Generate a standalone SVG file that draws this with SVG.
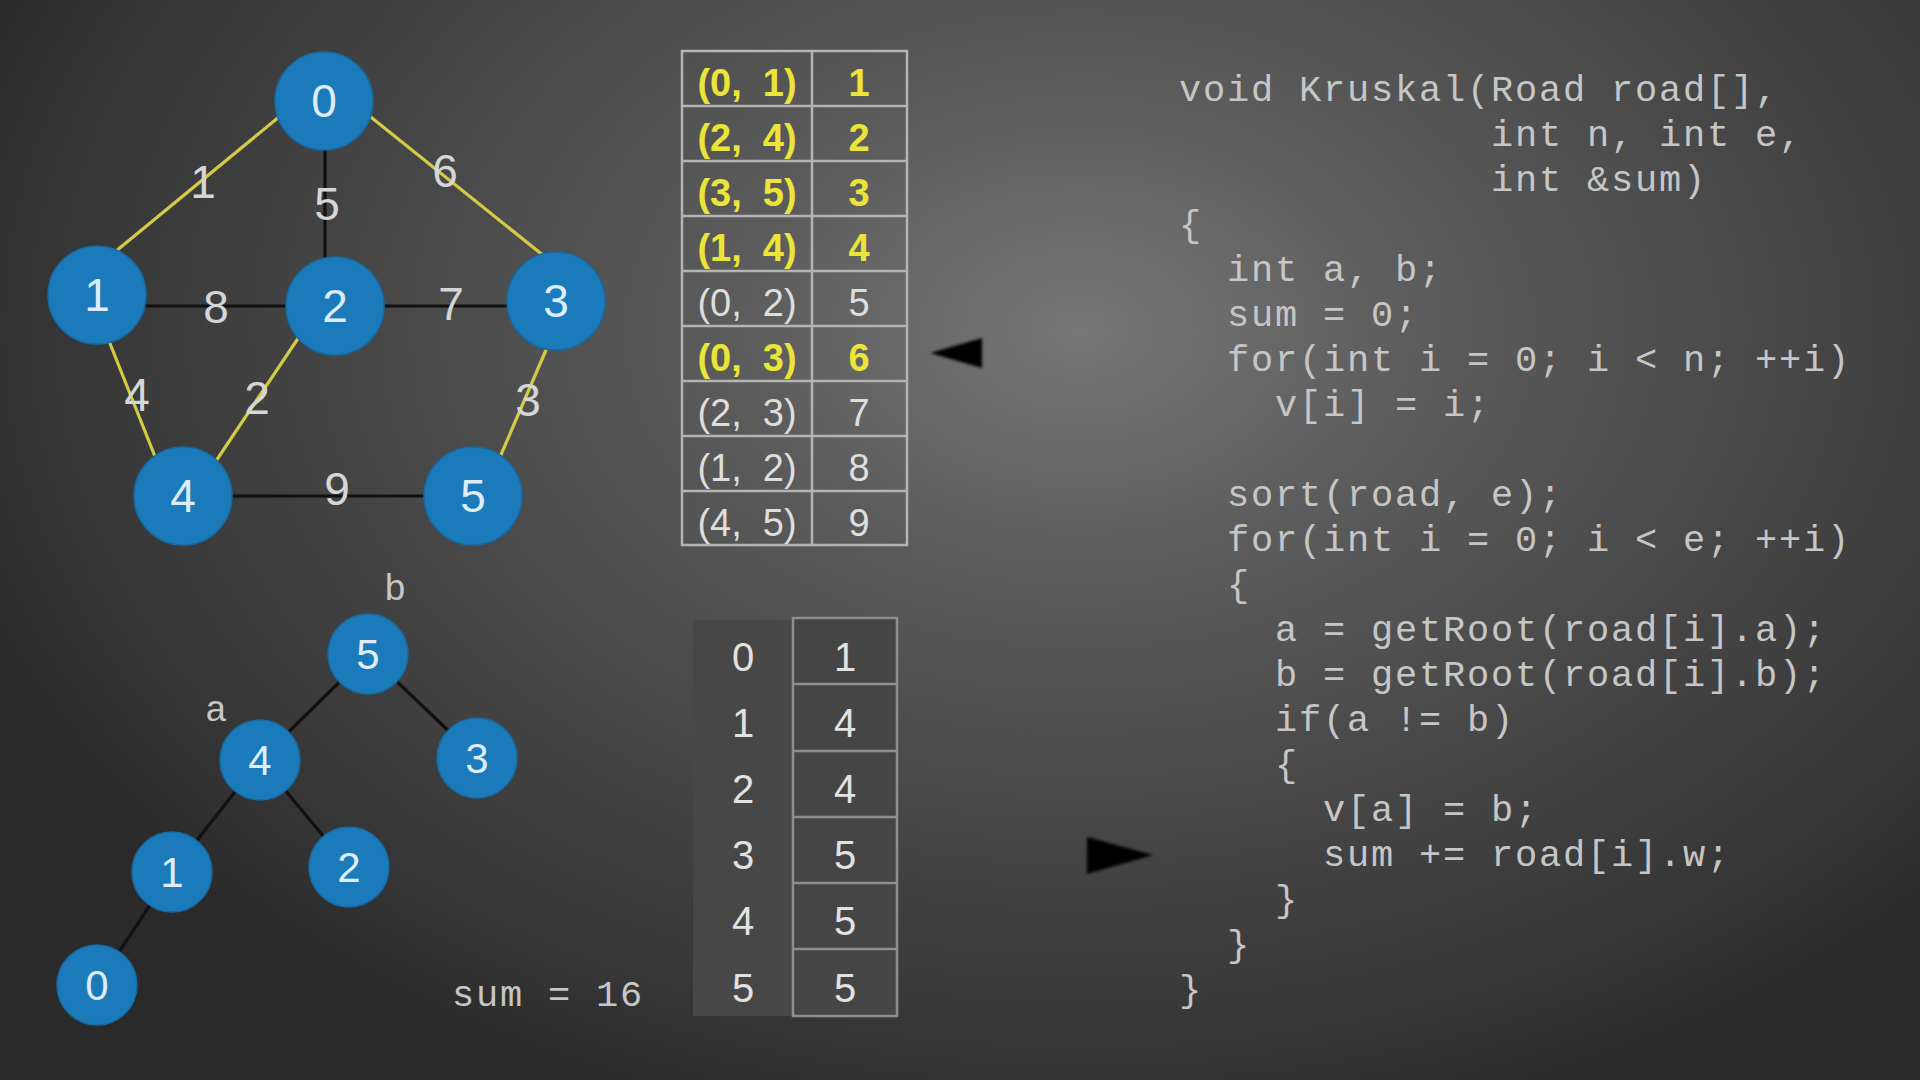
<svg xmlns="http://www.w3.org/2000/svg" width="1920" height="1080" viewBox="0 0 1920 1080">
<defs>
<radialGradient id="bg" gradientUnits="userSpaceOnUse" cx="1080" cy="330" r="1200" gradientTransform="translate(1080 330) scale(1 0.7) translate(-1080 -330)">
<stop offset="0" stop-color="#777777"/>
<stop offset="0.28" stop-color="#5c5c5c"/>
<stop offset="0.6" stop-color="#464646"/>
<stop offset="0.85" stop-color="#363636"/>
<stop offset="1" stop-color="#2a2a2a"/>
</radialGradient>
<filter id="blur" x="-20%" y="-20%" width="140%" height="140%"><feGaussianBlur stdDeviation="1.6"/></filter>
</defs>
<style>
.node{fill:#1b7bba;stroke:#166aa3;stroke-width:1.5}
.nl{font-family:"Liberation Sans",Arial,sans-serif;fill:#dcecf8;text-anchor:middle}
.el{font-family:"Liberation Sans",Arial,sans-serif;font-size:46px;fill:#d6d6d6;text-anchor:middle}
.ey{stroke:#d3ca48;stroke-width:3.2}
.ek{stroke:#111;stroke-width:3.2}
.tbl{fill:none;stroke:#b4b4b4;stroke-width:2.5}
.t1{font-family:"Liberation Sans",Arial,sans-serif;font-size:38px;text-anchor:middle;white-space:pre}
.yl{fill:#ebe43a;font-weight:bold}
.wh{fill:#dedede}
.t2{font-family:"Liberation Sans",Arial,sans-serif;font-size:40px;fill:#e2e2e2;text-anchor:middle}
.code{font-family:"Liberation Mono","Courier New",monospace;font-size:37px;letter-spacing:1.8px;fill:#c6c6c6}
.arrow{fill:#000;filter:url(#blur)}
</style>
<rect width="1920" height="1080" fill="url(#bg)"/>

<g id="connectors">
<line class="ey" x1="110" y1="256" x2="285" y2="112"/>
<line class="ey" x1="367" y1="114" x2="549" y2="260"/>
<line class="ek" x1="325" y1="145" x2="325" y2="262"/>
<line class="ek" x1="140" y1="306" x2="292" y2="306"/>
<line class="ek" x1="380" y1="306" x2="510" y2="306"/>
<line class="ey" x1="107" y1="336" x2="158" y2="464"/>
<line class="ey" x1="303" y1="331" x2="212" y2="467"/>
<line class="ey" x1="549" y1="343" x2="497" y2="464"/>
<line class="ek" x1="228" y1="496" x2="430" y2="496"/>
<line class="ek" x1="368" y1="654" x2="260" y2="760"/>
<line class="ek" x1="368" y1="654" x2="477" y2="758"/>
<line class="ek" x1="260" y1="760" x2="172" y2="872"/>
<line class="ek" x1="260" y1="760" x2="349" y2="867"/>
<line class="ek" x1="172" y1="872" x2="97" y2="985"/>
</g>

<g id="edge-labels">
<text class="el" x="203" y="198">1</text>
<text class="el" x="327" y="220">5</text>
<text class="el" x="445" y="187">6</text>
<text class="el" x="216" y="323">8</text>
<text class="el" x="451" y="320">7</text>
<text class="el" x="137" y="411">4</text>
<text class="el" x="257" y="414">2</text>
<text class="el" x="528" y="416">3</text>
<text class="el" x="337" y="505">9</text>
</g>

<g id="g0"><circle class="node" cx="324" cy="101" r="49"/><text class="nl" x="324" y="117" font-size="46">0</text></g>
<g id="g1"><circle class="node" cx="97" cy="295" r="49"/><text class="nl" x="97" y="311" font-size="46">1</text></g>
<g id="g2"><circle class="node" cx="335" cy="306" r="49"/><text class="nl" x="335" y="322" font-size="46">2</text></g>
<g id="g3"><circle class="node" cx="556" cy="301" r="49"/><text class="nl" x="556" y="317" font-size="46">3</text></g>
<g id="g4"><circle class="node" cx="183" cy="496" r="49"/><text class="nl" x="183" y="512" font-size="46">4</text></g>
<g id="g5"><circle class="node" cx="473" cy="496" r="49"/><text class="nl" x="473" y="512" font-size="46">5</text></g>

<g id="t5"><circle class="node" cx="368" cy="654" r="40"/><text class="nl" x="368" y="669" font-size="42">5</text></g>
<g id="t4"><circle class="node" cx="260" cy="760" r="40"/><text class="nl" x="260" y="775" font-size="42">4</text></g>
<g id="t3"><circle class="node" cx="477" cy="758" r="40"/><text class="nl" x="477" y="773" font-size="42">3</text></g>
<g id="t1"><circle class="node" cx="172" cy="872" r="40"/><text class="nl" x="172" y="887" font-size="42">1</text></g>
<g id="t2"><circle class="node" cx="349" cy="867" r="40"/><text class="nl" x="349" y="882" font-size="42">2</text></g>
<g id="t0"><circle class="node" cx="97" cy="985" r="40"/><text class="nl" x="97" y="1000" font-size="42">0</text></g>

<g id="tree-labels" class="code">
<text x="396" y="600" text-anchor="middle">b</text>
<text x="217" y="721" text-anchor="middle">a</text>
<text x="452" y="1006">sum = 16</text>
</g>

<g id="edge-table">
<rect class="tbl" x="682" y="51" width="225" height="494"/>
<line class="tbl" x1="812" y1="51" x2="812" y2="545"/>
<line class="tbl" x1="682" y1="106" x2="907" y2="106"/>
<line class="tbl" x1="682" y1="161" x2="907" y2="161"/>
<line class="tbl" x1="682" y1="216" x2="907" y2="216"/>
<line class="tbl" x1="682" y1="271" x2="907" y2="271"/>
<line class="tbl" x1="682" y1="326" x2="907" y2="326"/>
<line class="tbl" x1="682" y1="381" x2="907" y2="381"/>
<line class="tbl" x1="682" y1="436" x2="907" y2="436"/>
<line class="tbl" x1="682" y1="491" x2="907" y2="491"/>
<text class="t1 yl" xml:space="preserve" x="747" y="96">(0,  1)</text><text class="t1 yl" x="859" y="96">1</text>
<text class="t1 yl" xml:space="preserve" x="747" y="151">(2,  4)</text><text class="t1 yl" x="859" y="151">2</text>
<text class="t1 yl" xml:space="preserve" x="747" y="206">(3,  5)</text><text class="t1 yl" x="859" y="206">3</text>
<text class="t1 yl" xml:space="preserve" x="747" y="261">(1,  4)</text><text class="t1 yl" x="859" y="261">4</text>
<text class="t1 wh" xml:space="preserve" x="747" y="316">(0,  2)</text><text class="t1 wh" x="859" y="316">5</text>
<text class="t1 yl" xml:space="preserve" x="747" y="371">(0,  3)</text><text class="t1 yl" x="859" y="371">6</text>
<text class="t1 wh" xml:space="preserve" x="747" y="426">(2,  3)</text><text class="t1 wh" x="859" y="426">7</text>
<text class="t1 wh" xml:space="preserve" x="747" y="481">(1,  2)</text><text class="t1 wh" x="859" y="481">8</text>
<text class="t1 wh" xml:space="preserve" x="747" y="536">(4,  5)</text><text class="t1 wh" x="859" y="536">9</text>
</g>

<g id="parent-table">
<rect x="693" y="620" width="100" height="396" fill="#474747"/>
<rect x="793" y="618" width="104" height="398" fill="#454545" stroke="#8e8e8e" stroke-width="2.5"/>
<line x1="793" y1="684" x2="897" y2="684" stroke="#8e8e8e" stroke-width="2.5"/>
<line x1="793" y1="751" x2="897" y2="751" stroke="#8e8e8e" stroke-width="2.5"/>
<line x1="793" y1="817" x2="897" y2="817" stroke="#8e8e8e" stroke-width="2.5"/>
<line x1="793" y1="883" x2="897" y2="883" stroke="#8e8e8e" stroke-width="2.5"/>
<line x1="793" y1="949" x2="897" y2="949" stroke="#8e8e8e" stroke-width="2.5"/>
<text class="t2" x="743" y="671">0</text><text class="t2" x="845" y="671">1</text>
<text class="t2" x="743" y="737">1</text><text class="t2" x="845" y="737">4</text>
<text class="t2" x="743" y="803">2</text><text class="t2" x="845" y="803">4</text>
<text class="t2" x="743" y="869">3</text><text class="t2" x="845" y="869">5</text>
<text class="t2" x="743" y="935">4</text><text class="t2" x="845" y="935">5</text>
<text class="t2" x="743" y="1002">5</text><text class="t2" x="845" y="1002">5</text>
</g>

<g id="arrows">
<polygon class="arrow" points="930,353 982,338 982,368"/>
<polygon class="arrow" points="1087,837 1153,855 1087,874"/>
</g>

<g id="code" class="code">
<text x="1179" y="101">void Kruskal(Road road[],</text>
<text x="1491" y="146">int n, int e,</text>
<text x="1491" y="191">int &amp;sum)</text>
<text x="1179" y="236">{</text>
<text x="1227" y="281">int a, b;</text>
<text x="1227" y="326">sum = 0;</text>
<text x="1227" y="371">for(int i = 0; i &lt; n; ++i)</text>
<text x="1275" y="416">v[i] = i;</text>
<text x="1227" y="506">sort(road, e);</text>
<text x="1227" y="551">for(int i = 0; i &lt; e; ++i)</text>
<text x="1227" y="596">{</text>
<text x="1275" y="641">a = getRoot(road[i].a);</text>
<text x="1275" y="686">b = getRoot(road[i].b);</text>
<text x="1275" y="731">if(a != b)</text>
<text x="1275" y="776">{</text>
<text x="1323" y="821">v[a] = b;</text>
<text x="1323" y="866">sum += road[i].w;</text>
<text x="1275" y="911">}</text>
<text x="1227" y="956">}</text>
<text x="1179" y="1001">}</text>
</g>
</svg>
